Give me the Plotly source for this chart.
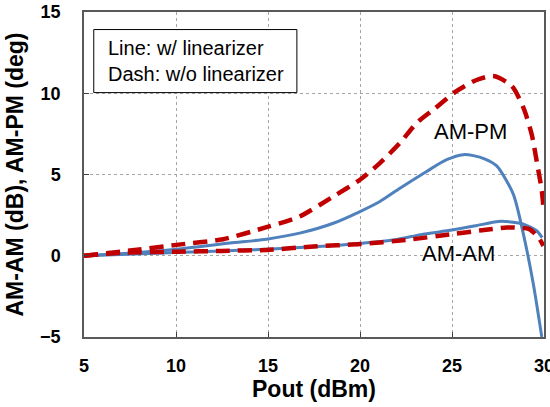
import plotly.graph_objects as go

# AM-PM, with linearizer (solid blue)
x_pm_w = [5, 7, 10.03, 12.93, 14.92, 16.72, 18.55, 20.0, 21.08, 22.17, 23.62, 24.71, 25.61, 26.16, 26.8, 27.43, 28.33, 28.88, 29.42, 29.88]
y_pm_w = [0, 0.12, 0.4, 0.78, 1.02, 1.39, 2.0, 2.72, 3.34, 4.16, 5.19, 5.91, 6.22, 6.16, 5.95, 5.53, 3.79, 1.33, -1.74, -5.0]

# AM-AM, with linearizer (solid blue)
x_am_w = [5, 7, 10, 12.5, 14.92, 17.5, 20, 22, 23.3, 25, 26.3, 27.52, 28.2, 28.88, 29.6, 29.9]
y_am_w = [0, 0.08, 0.2, 0.3, 0.4, 0.55, 0.76, 1.0, 1.3, 1.58, 1.85, 2.11, 2.08, 1.95, 1.54, 1.12]

# AM-PM, without linearizer (dashed red)
x_pm_wo = [5, 7.5, 10.03, 12.56, 14.92, 16.72, 18.55, 20.0, 21.08, 22.17, 23.08, 24.0, 25.26, 26.3, 27.25, 28.25, 28.88, 29.33, 29.6, 29.88, 29.97]
y_pm_wo = [0, 0.32, 0.67, 1.02, 1.76, 2.42, 3.65, 4.68, 5.7, 6.94, 8.17, 9.0, 10.14, 10.8, 11.06, 10.45, 9.11, 7.48, 5.84, 4.0, 2.97]

# AM-AM, without linearizer (dashed red)
x_am_wo = [5, 7, 10.03, 12.5, 14.92, 17.46, 20, 22.5, 25, 26.5, 27.97, 28.6, 29.2, 29.7, 29.97]
y_am_wo = [0, 0.18, 0.25, 0.3, 0.36, 0.57, 0.72, 0.97, 1.33, 1.55, 1.74, 1.72, 1.64, 1.12, 0.61]

x_ticks = [5, 10, 15, 20, 25, 30]
y_ticks = [-5, 0, 5, 10, 15]

BLUE = "#4F81BD"
RED = "#C00000"
FONT = "Arial, Liberation Sans, sans-serif"

fig = go.Figure()
for xs, ys in [(x_pm_w, y_pm_w), (x_am_w, y_am_w)]:
    fig.add_trace(go.Scatter(x=xs, y=ys, mode="lines",
                             line=dict(color=BLUE, width=3, shape="spline", smoothing=0.7),
                             showlegend=False, cliponaxis=True))
for xs, ys in [(x_pm_wo, y_pm_wo), (x_am_wo, y_am_wo)]:
    fig.add_trace(go.Scatter(x=xs, y=ys, mode="lines",
                             line=dict(color=RED, width=4.5, dash="14px,8px", shape="spline", smoothing=0.7),
                             showlegend=False, cliponaxis=True))

# legend box
fig.add_shape(type="rect", x0=5.53, x1=16.57, y0=10.04, y1=13.92,
              xref="x", yref="y", line=dict(color="black", width=1),
              fillcolor="white", layer="above")
fig.add_annotation(x=6.22, y=12.0, xref="x", yref="y", xanchor="left", yanchor="middle",
                   align="left", showarrow=False,
                   text="Line: w/ linearizer<br>Dash: w/o linearizer",
                   font=dict(family=FONT, size=20, color="black"))
fig.add_annotation(x=25.98, y=7.64, xref="x", yref="y", showarrow=False, text="AM-PM",
                   font=dict(family=FONT, size=22, color="black"))
fig.add_annotation(x=25.33, y=0.12, xref="x", yref="y", showarrow=False, text="AM-AM",
                   font=dict(family=FONT, size=22, color="black"))

axis_common = dict(showgrid=True, gridcolor="#A6A6A6", griddash="dot", gridwidth=1,
                   showline=True, linecolor="#595959", linewidth=1.5, mirror=True,
                   ticks="inside", ticklen=5, tickcolor="#404040", zeroline=False,
                   ticklabeloverflow="allow", automargin=False,
                   tickfont=dict(family=FONT, size=18, color="black", weight="bold"))

fig.update_xaxes(range=[5, 30], tickvals=x_ticks, ticklabelstandoff=12,
                 title=dict(text="Pout (dBm)", standoff=6,
                            font=dict(family=FONT, size=23, color="black", weight="bold")),
                 **axis_common)
fig.update_yaxes(range=[-5, 15], tickvals=y_ticks, ticklabelstandoff=18,
                 title=dict(text="AM-AM (dB), AM-PM (deg)", standoff=10,
                            font=dict(family=FONT, size=23, color="black", weight="bold")),
                 **axis_common)

fig.update_layout(width=550, height=407, margin=dict(l=84, r=6, t=12, b=70),
                  plot_bgcolor="white", paper_bgcolor="white")

fig.write_html("out.html")
